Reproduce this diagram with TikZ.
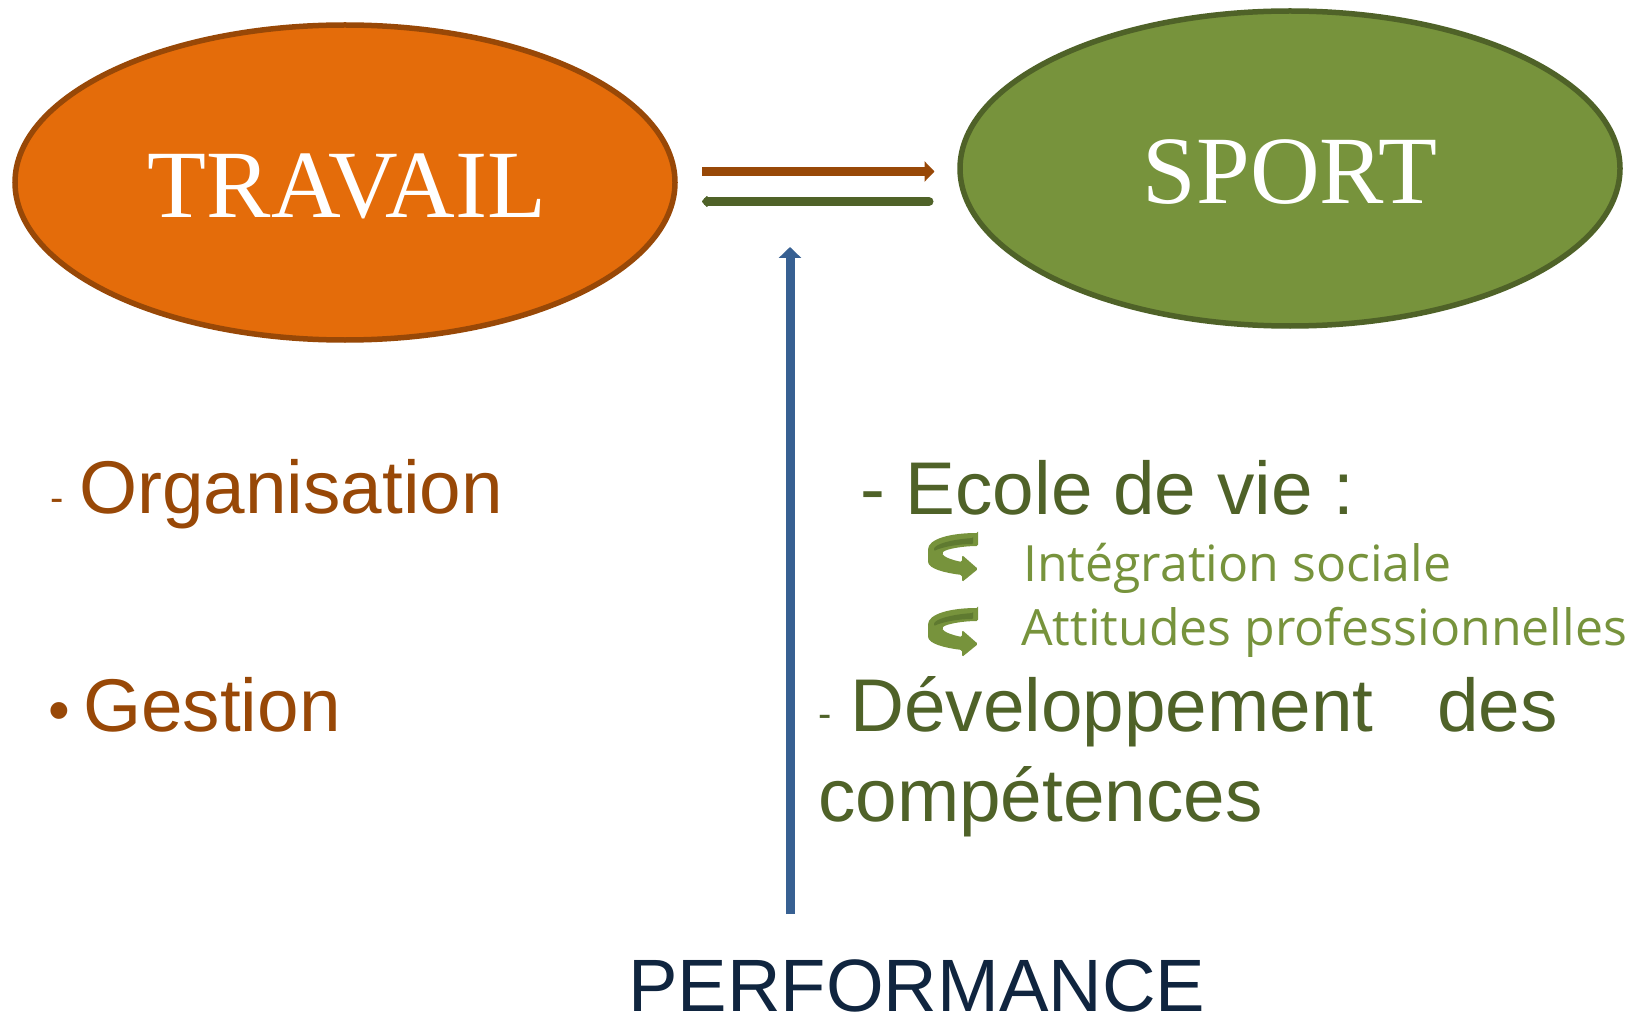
\documentclass[tikz,border=0pt]{standalone}
\usepackage{fontspec}
\setmainfont{Liberation Sans}
\newfontfamily\serifface{Liberation Serif}
\newfontfamily\subface{Open Sans}
\usetikzlibrary{arrows.meta,shapes.geometric}
\definecolor{orangefill}{HTML}{E46C0A}
\definecolor{brownline}{HTML}{984807}
\definecolor{greenfill}{HTML}{77933C}
\definecolor{greenline}{HTML}{4F6228}
\definecolor{greenband}{HTML}{5F7A30}
\definecolor{blueline}{HTML}{376092}
\definecolor{navytext}{HTML}{10253F}
\tikzset{
  x=1pt,y=-1pt,
  oval/.style={draw=#1,line width=5.5pt,ellipse,inner sep=0pt,outer sep=0pt},
  ovaltext/.style={text=white,font=\serifface\fontsize{96.5}{96.5}\selectfont,anchor=base,inner sep=0pt},
  label/.style={anchor=base west,inner sep=0pt,font=\fontsize{74.7}{74.7}\selectfont,text=#1},
  perflabel/.style={anchor=base west,inner sep=0pt,font=\fontsize{74.2}{74.2}\selectfont,text=navytext},
  dashmark/.style={anchor=base west,inner sep=0pt,font=\fontsize{40}{40}\selectfont,text=#1},
  sublabel/.style={anchor=base west,inner sep=0pt,font=\subface\fontsize{50}{50}\selectfont,text=greenfill},
  flow/.style={line width=9pt,draw=#1},
  pics/curlarrow/.style={code={
    \fill[greenfill,rounded corners=1.5pt] (0,0) -- (0,13)
      .. controls (-15,13) and (-32,16) .. (-36,20)
      .. controls (-34,24) and (-26,27) .. (-16,29)
      -- (-16,22) -- (0,36) -- (-16,49) -- (-16,42)
      .. controls (-32,40) and (-50,36) .. (-50,27)
      -- (-50,18)
      .. controls (-50,6) and (-28,0) .. (0,0) -- cycle;
    \fill[greenband,rounded corners=1pt] (-5,5) -- (-5,11)
      .. controls (-20,11) and (-36,14) .. (-44,18)
      -- (-44,15)
      .. controls (-38,9) and (-20,6) .. (-5,5) -- cycle;
  }}
}
\begin{document}
\begin{tikzpicture}
\useasboundingbox (0,0) rectangle (1632,1016);
\node[oval=brownline,fill=orangefill,minimum width=660pt,minimum height=315pt] (travail) at (345,182.5) {};
\node[oval=greenline,fill=greenfill,minimum width=660pt,minimum height=315pt] (sport) at (1290,168.5) {};
\node[ovaltext] (travailt) at (347,218) {TRAVAIL};
\node[ovaltext] (sportt) at (1290,204) {SPORT};

\coordinate (a1) at (702,171.5);
\coordinate (a2) at (934.5,171.5);
\coordinate (b1) at (929,201.5);
\coordinate (b2) at (702,201.5);
\coordinate (c1) at (790,914);
\coordinate (c2) at (790,247);
\draw[flow=brownline,-{Triangle[length=10pt,width=20pt]}] (a1) -- (a2);
\draw[flow=greenline,line cap=round,-{Triangle[length=6pt,width=13pt,round]}] (b1) -- (b2);
\draw[flow=blueline,-{Triangle[length=11pt,width=22pt]}] (c1) -- (c2);

\node[dashmark=brownline] (d1) at (50,511) {-};
\node[label=brownline] (org) at (79,513) {Organisation};
\node[anchor=base west,inner sep=0pt,font=\fontsize{62}{62}\selectfont,text=brownline] (bul) at (48,731) {•};
\node[label=brownline] (ges) at (83,731) {Gestion};

\node[label=greenline] (ecole) at (860,514) {- Ecole de vie :};
\node[sublabel] (integ) at (1023,581) {Intégration sociale};
\node[sublabel] (atti) at (1021,645) {Attitudes professionnelles};
\pic at (978,533) {curlarrow};
\pic at (978,608) {curlarrow};
\node[dashmark=greenline] (d2) at (818,727) {-};
\node[label=greenline] (dev) at (850,731) {Développement};
\node[label=greenline] (des) at (1437,731) {des};
\node[label=greenline] (comp) at (818,821) {compétences};
\node[perflabel] (perf) at (628,1011.5) {PERFORMANCE};
\end{tikzpicture}
\end{document}
